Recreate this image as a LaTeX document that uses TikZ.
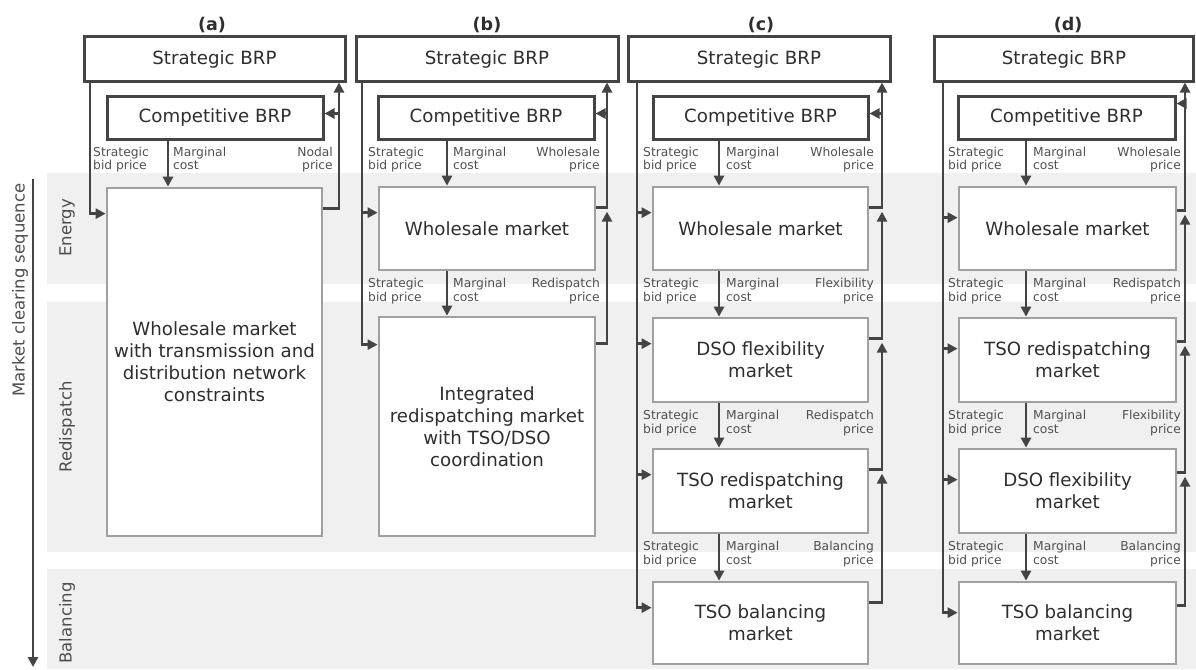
\documentclass[tikz,border=0pt]{standalone}
\usepackage{fontspec}
\setmainfont{DejaVu Sans}
\usetikzlibrary{arrows.meta,calc}
\definecolor{dark}{HTML}{444444}
\definecolor{boxgray}{HTML}{A0A0A0}
\definecolor{band}{HTML}{F0F0F0}
\definecolor{txt}{HTML}{2E2E2E}
\definecolor{lbltxt}{HTML}{505050}
\begin{document}
\begin{tikzpicture}[x=1pt,y=-1pt,
  sbox/.style={draw=dark,line width=3pt,fill=white,text=txt,font=\fontsize{18.2}{22}\selectfont,inner sep=0pt,minimum height=44pt},
  cbox/.style={draw=dark,line width=3pt,fill=white,text=txt,font=\fontsize{18.2}{22}\selectfont,inner sep=0pt,minimum height=43pt},
  mbox/.style={draw=boxgray,line width=2.7pt,fill=white,text=txt,font=\fontsize{18.2}{22}\selectfont,align=center,inner sep=0pt},
  conn/.style={draw=dark,line width=2.9pt,-{Triangle[length=10pt,width=10pt]}},
  lbl/.style={text=lbltxt,font=\fontsize{12.3}{13.8}\selectfont,inner sep=0pt},
  lbll/.style={lbl,align=left,anchor=north west},
  lblr/.style={lbl,align=right,anchor=north east},
  ttl/.style={text=txt,font=\fontsize{17.5}{20}\selectfont\bfseries},
  bandlbl/.style={text=txt!85,font=\fontsize{16.5}{19}\selectfont,rotate=90}
]
\useasboundingbox (0,0) rectangle (1196,669);
% bands
\fill[band] (47,173) rectangle (1196,284);
\fill[band] (47,302) rectangle (1196,552);
\fill[band] (47,569) rectangle (1196,669);
\node[bandlbl] (lE) at (67,228) {Energy};
\node[bandlbl] (lR) at (67,427) {Redispatch};
\node[bandlbl] (lB) at (67,623) {Balancing};
% axis
\coordinate (ax1) at (33,179);
\coordinate (ax2) at (33,667);
\draw[conn] (ax1) -- (ax2);
\node[bandlbl] (lAx) at (20,290) {Market clearing sequence};

% ---------------- panel (a)
\node[ttl] (aT) at (212,25) {(a)};
\node[sbox,minimum width=261pt] (aS) at (214.5,59) {Strategic BRP};
\node[cbox,minimum width=216pt] (aC) at (215,117.5) {Competitive BRP};
\node[mbox,minimum width=215pt,minimum height=348pt] (a1) at (214.5,362) {Wholesale market\\with transmission and\\distribution network\\constraints};
\coordinate (aL) at (90,0); \coordinate (aR) at (339,0); \coordinate (aX) at (168,0);
\coordinate (aI1) at ([yshift=-27pt]a1.north west);
\coordinate (aO1) at ([yshift=-22pt]a1.north east);
\draw[conn] (aS.south -| aL) |- (aI1);
\draw[conn] (aC.south -| aX) -- (a1.north -| aX);
\draw[conn] (aO1) -| (aS.south -| aR);
\draw[conn] ([yshift=4pt]aC.east -| aR) -- ([yshift=4pt]aC.east);
\node[lbll] (aLa) at ($(aC.south -| aL)+(3,6)$) {Strategic\\bid price};
\node[lbll] (aLb) at ($(aC.south -| aX)+(5,6)$) {Marginal\\cost};
\node[lblr] (aLc) at ($(aC.south -| aR)+(-6,6)$) {Nodal\\price};

% ---------------- panel (b)
\node[ttl] (bT) at (487,25) {(b)};
\node[sbox,minimum width=262pt] (bS) at (487,59) {Strategic BRP};
\node[cbox,minimum width=216pt] (bC) at (486,117.5) {Competitive BRP};
\node[mbox,minimum width=216pt,minimum height=83pt] (b1) at (487,228.5) {Wholesale market};
\node[mbox,minimum width=216pt,minimum height=219pt] (b2) at (487,426.5) {Integrated\\redispatching market\\with TSO/DSO\\coordination};
\coordinate (bL) at (362,0); \coordinate (bR) at (607,0); \coordinate (bX) at (447,0);
\coordinate (bI1) at ([yshift=-27pt]b1.north west);
\coordinate (bI2) at ([yshift=-29pt]b2.north west);
\coordinate (bO1) at ([yshift=-22pt]b1.north east);
\coordinate (bO2) at ([yshift=-28pt]b2.north east);
\draw[conn] (bS.south -| bL) |- (bI2);
\draw[conn] (bI1 -| bL) -- (bI1);
\draw[conn] (bC.south -| bX) -- (b1.north -| bX);
\draw[conn] (b1.south -| bX) -- (b2.north -| bX);
\draw[conn] (bO1) -| (bS.south -| bR);
\draw[conn] (bO2) -| ($(bO1 -| bR)+(0,4)$);
\draw[conn] ([yshift=4pt]bC.east -| bR) -- ([yshift=4pt]bC.east);
\node[lbll] at ($(bC.south -| bL)+(6,6)$) {Strategic\\bid price};
\node[lbll] at ($(bC.south -| bX)+(6,6)$) {Marginal\\cost};
\node[lblr] at ($(bC.south -| bR)+(-7,6)$) {Wholesale\\price};
\node[lbll] at ($(b1.south -| bL)+(6,7)$) {Strategic\\bid price};
\node[lbll] at ($(b1.south -| bX)+(6,7)$) {Marginal\\cost};
\node[lblr] at ($(b1.south -| bR)+(-7,7)$) {Redispatch\\price};

% ---------------- panel (c)
\node[ttl] (cT) at (761,25) {(c)};
\node[sbox,minimum width=262pt] (cS) at (759,59) {Strategic BRP};
\node[cbox,minimum width=215pt] (cC) at (760.5,117.5) {Competitive BRP};
\node[mbox,minimum width=215pt,minimum height=83pt] (c1) at (760.5,228.5) {Wholesale market};
\node[mbox,minimum width=215pt,minimum height=84pt] (c2) at (760.5,360) {DSO flexibility\\market};
\node[mbox,minimum width=215pt,minimum height=84pt] (c3) at (760.5,491) {TSO redispatching\\market};
\node[mbox,minimum width=215pt,minimum height=82pt] (c4) at (760.5,623) {TSO balancing\\market};
\coordinate (cL) at (637,0); \coordinate (cR) at (882,0); \coordinate (cX) at (719,0);
\foreach \i in {1,...,4} {
  \coordinate (cI\i) at ([yshift=-27pt]c\i.north west);
  \coordinate (cO\i) at ([yshift=-22pt]c\i.north east);
}
\draw[conn] (cS.south -| cL) |- (cI4);
\foreach \i in {1,2,3} {\draw[conn] (cI\i -| cL) -- (cI\i);}
\draw[conn] (cC.south -| cX) -- (c1.north -| cX);
\draw[conn] (c1.south -| cX) -- (c2.north -| cX);
\draw[conn] (c2.south -| cX) -- (c3.north -| cX);
\draw[conn] (c3.south -| cX) -- (c4.north -| cX);
\draw[conn] (cO1) -| (cS.south -| cR);
\draw[conn] (cO2) -| ($(cO1 -| cR)+(0,4)$);
\draw[conn] (cO3) -| ($(cO2 -| cR)+(0,4)$);
\draw[conn] (cO4) -| ($(cO3 -| cR)+(0,4)$);
\draw[conn] ([yshift=4pt]cC.east -| cR) -- ([yshift=4pt]cC.east);
\node[lbll] at ($(cC.south -| cL)+(6,6)$) {Strategic\\bid price};
\node[lbll] at ($(cC.south -| cX)+(7,6)$) {Marginal\\cost};
\node[lblr] at ($(cC.south -| cR)+(-8,6)$) {Wholesale\\price};
\node[lbll] at ($(c1.south -| cL)+(6,7)$) {Strategic\\bid price};
\node[lbll] at ($(c1.south -| cX)+(7,7)$) {Marginal\\cost};
\node[lblr] at ($(c1.south -| cR)+(-8,7)$) {Flexibility\\price};
\node[lbll] at ($(c2.south -| cL)+(6,7)$) {Strategic\\bid price};
\node[lbll] at ($(c2.south -| cX)+(7,7)$) {Marginal\\cost};
\node[lblr] at ($(c2.south -| cR)+(-8,7)$) {Redispatch\\price};
\node[lbll] at ($(c3.south -| cL)+(6,7)$) {Strategic\\bid price};
\node[lbll] at ($(c3.south -| cX)+(7,7)$) {Marginal\\cost};
\node[lblr] at ($(c3.south -| cR)+(-8,7)$) {Balancing\\price};

% ---------------- panel (d)
\node[ttl] (dT) at (1068,25) {(d)};
\node[sbox,minimum width=259pt] (dS) at (1064,59) {Strategic BRP};
\node[cbox,minimum width=217pt] (dC) at (1066.5,117.5) {Competitive BRP};
\node[mbox,minimum width=217pt,minimum height=83pt] (d1) at (1067.5,228.5) {Wholesale market};
\node[mbox,minimum width=217pt,minimum height=84pt] (d2) at (1067.5,360) {TSO redispatching\\market};
\node[mbox,minimum width=217pt,minimum height=84pt] (d3) at (1067.5,491) {DSO flexibility\\market};
\node[mbox,minimum width=217pt,minimum height=82pt] (d4) at (1067.5,623) {TSO balancing\\market};
\coordinate (dL) at (943,0); \coordinate (dR) at (1185,0); \coordinate (dX) at (1026,0);
\foreach \i in {1,...,4} {
  \coordinate (dI\i) at ([yshift=-32pt]d\i.north west);
  \coordinate (dO\i) at ([yshift=-25pt]d\i.north east);
}
\draw[conn] (dS.south -| dL) |- (dI4);
\foreach \i in {1,2,3} {\draw[conn] (dI\i -| dL) -- (dI\i);}
\draw[conn] (dC.south -| dX) -- (d1.north -| dX);
\draw[conn] (d1.south -| dX) -- (d2.north -| dX);
\draw[conn] (d2.south -| dX) -- (d3.north -| dX);
\draw[conn] (d3.south -| dX) -- (d4.north -| dX);
\draw[conn] (dO1) -| (dS.south -| dR);
\draw[conn] (dO2) -| ($(dO1 -| dR)+(0,4)$);
\draw[conn] (dO3) -| ($(dO2 -| dR)+(0,4)$);
\draw[conn] (dO4) -| ($(dO3 -| dR)+(0,4)$);
\draw[conn] ([yshift=14pt]dC.east -| dR) -- ([yshift=14pt]dC.east);
\node[lbll] at ($(dC.south -| dL)+(5,6)$) {Strategic\\bid price};
\node[lbll] at ($(dC.south -| dX)+(7,6)$) {Marginal\\cost};
\node[lblr] at ($(dC.south -| dR)+(-4,6)$) {Wholesale\\price};
\node[lbll] at ($(d1.south -| dL)+(5,7)$) {Strategic\\bid price};
\node[lbll] at ($(d1.south -| dX)+(7,7)$) {Marginal\\cost};
\node[lblr] at ($(d1.south -| dR)+(-4,7)$) {Redispatch\\price};
\node[lbll] at ($(d2.south -| dL)+(5,7)$) {Strategic\\bid price};
\node[lbll] at ($(d2.south -| dX)+(7,7)$) {Marginal\\cost};
\node[lblr] at ($(d2.south -| dR)+(-4,7)$) {Flexibility\\price};
\node[lbll] at ($(d3.south -| dL)+(5,7)$) {Strategic\\bid price};
\node[lbll] at ($(d3.south -| dX)+(7,7)$) {Marginal\\cost};
\node[lblr] at ($(d3.south -| dR)+(-4,7)$) {Balancing\\price};
\end{tikzpicture}
\end{document}
